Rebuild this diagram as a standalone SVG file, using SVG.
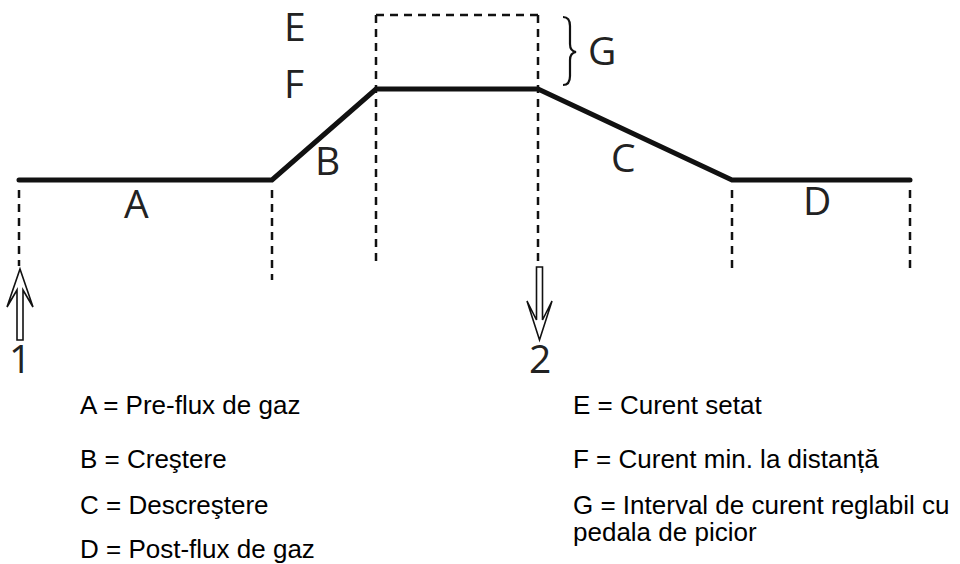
<svg xmlns="http://www.w3.org/2000/svg" width="960" height="564" viewBox="0 0 960 564">
<style>
.curve{fill:none;stroke:#111;stroke-width:5;stroke-linejoin:miter;stroke-linecap:round}
.dash{fill:none;stroke:#111;stroke-width:2.5;stroke-dasharray:8 6}
.lbl{font-family:"Open Sans","DejaVu Sans",sans-serif;font-size:39px;font-weight:400;fill:#222}
.leg{font-family:"Liberation Sans",Arial,sans-serif;font-size:26px;fill:#000}
.arr{fill:#fff;stroke:#111;stroke-width:1.6;stroke-linejoin:miter}
.brace{fill:none;stroke:#111;stroke-width:2.2}
</style>
<rect width="960" height="564" fill="#fff"/>
<g id="guides">
<line class="dash" x1="19" y1="190" x2="19" y2="266"/>
<line class="dash" x1="272" y1="190" x2="272" y2="280"/>
<line class="dash" x1="376" y1="15" x2="376" y2="265"/>
<line class="dash" x1="538" y1="15" x2="538" y2="265"/>
<line class="dash" x1="376" y1="15" x2="538" y2="15"/>
<line class="dash" x1="732" y1="190" x2="732" y2="268"/>
<line class="dash" x1="910" y1="190" x2="910" y2="268"/>
</g>
<g id="curve">
<polyline class="curve" points="19,180 272,180 376,89 538,89 732,180 910,180"/>
</g>
<g id="brace">
<path class="brace" d="M563,17 Q570,17 570,26 L570,44 Q570,51 576,52 Q570,53 570,60 L570,76 Q570,85 563,85"/>
</g>
<g id="arrow1">
<polygon class="arr" points="20,269 33,307 23,290 23,340 17,340 17,290 7,307"/>
</g>
<g id="arrow2">
<polygon class="arr" points="536.5,267 542.5,267 542.5,320 552,301 539.5,340 527,301 536.5,320"/>
</g>
<g id="labels">
<text class="lbl" x="284" y="41">E</text>
<text class="lbl" x="284" y="98">F</text>
<text class="lbl" x="588" y="65">G</text>
<text class="lbl" x="124" y="218">A</text>
<text class="lbl" x="315" y="175">B</text>
<text class="lbl" x="611" y="172">C</text>
<text class="lbl" x="803" y="215">D</text>
<text class="lbl" x="9" y="373">1</text>
<text class="lbl" x="529" y="373">2</text>
</g>
<g id="legend">
<text class="leg" x="80" y="414">A = Pre-flux de gaz</text>
<text class="leg" x="80" y="468">B = Creştere</text>
<text class="leg" x="80" y="514">C = Descreştere</text>
<text class="leg" x="80" y="558">D = Post-flux de gaz</text>
<text class="leg" x="573" y="414">E = Curent setat</text>
<text class="leg" x="573" y="468">F = Curent min. la distanță</text>
<text class="leg" x="573" y="514">G = Interval de curent reglabil cu</text>
<text class="leg" x="573" y="541">pedala de picior</text>
</g>
</svg>
